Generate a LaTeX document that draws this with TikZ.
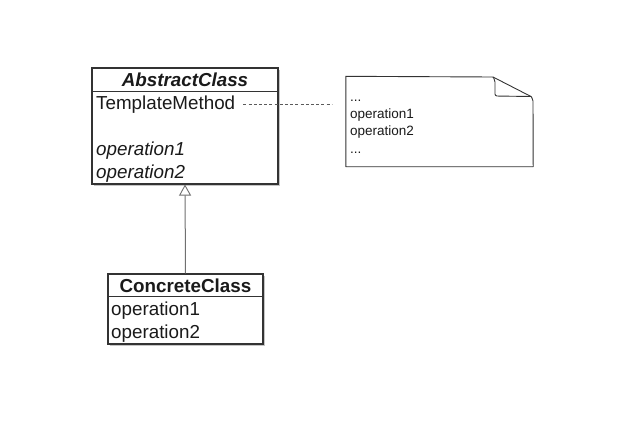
\documentclass[tikz,border=0pt]{standalone}
\usepackage{fontspec}
\setmainfont{Liberation Sans}
\usetikzlibrary{shadows,arrows.meta}
\definecolor{linecol}{HTML}{333333}
\definecolor{txtcol}{HTML}{1A1A1A}
\definecolor{arrcol}{HTML}{707070}
\tikzset{
  classbox/.style={draw=linecol, line width=1.1pt, fill=white, inner sep=0pt,
    drop shadow={shadow xshift=1.5pt, shadow yshift=-1.8pt, opacity=0.45}},
  sep/.style={draw=linecol, line width=0.8pt},
  big/.style={font=\fontsize{18.8}{22}\selectfont, text=txtcol, inner sep=0pt},
  small/.style={font=\fontsize{13.5}{15}\selectfont, text=txtcol, inner sep=0pt, anchor=base west},
  gen/.style={draw=arrcol, line width=1pt, -{Triangle[open, length=11pt, width=12pt, line width=0.9pt]}},
  notelink/.style={draw=arrcol!80!black, line width=0.8pt, dash pattern=on 3pt off 2.2pt},
  noteline/.style={draw=linecol, line width=0.9pt, line join=round}
}
\begin{document}
\begin{tikzpicture}[x=1pt,y=-1pt]
\useasboundingbox[fill=white] (0,0) rectangle (640,426);
% AbstractClass
\node[classbox, minimum width=186pt, minimum height=116pt] (abs) at (185,126) {};
\draw[sep] ([yshift=-24pt]abs.north west) -- ([yshift=-24pt]abs.north east);
\node[big] (absname) at (185,80) {\bfseries\itshape AbstractClass};
\node[big, anchor=base west] (tm) at (96,109.5) {TemplateMethod};
\node[big, anchor=base west] (aop1) at (96,155.5) {\itshape operation1};
\node[big, anchor=base west] (aop2) at (96,178.5) {\itshape operation2};
% ConcreteClass
\node[classbox, minimum width=155pt, minimum height=70pt] (con) at (185.5,309) {};
\draw[sep] ([yshift=-23pt]con.north west) -- ([yshift=-23pt]con.north east);
\node[big] (conname) at (185.5,286) {\bfseries ConcreteClass};
\node[big, anchor=base west] (cop1) at (111,315.5) {operation1};
\node[big, anchor=base west] (cop2) at (111,338.5) {operation2};
% generalization
\draw[gen] (con.north) -- (abs.south);
% note
\node[minimum width=187pt, minimum height=90pt, inner sep=0pt] (note) at (439.5,121.5) {};
\draw[noteline, fill=white] (note.north west) -- (493,77)
  -- (531,96.5) [rounded corners=2pt] -- (533,99) [sharp corners] -- (note.south east)
  -- (note.south west) -- cycle;
\draw[noteline] (493,77) [rounded corners=2pt] -- (495,80) -- (495,96) -- (531,96.5);
\node[small] (n1) at (350,101) {...};
\node[small] (n2) at (350,118) {operation1};
\node[small] (n3) at (350,135) {operation2};
\node[small] (n4) at (350,153) {...};
% link
\draw[notelink] ([xshift=8pt]tm.east |- tm.center) -- ([xshift=-14pt]note.west |- tm.center);
\end{tikzpicture}
\end{document}
